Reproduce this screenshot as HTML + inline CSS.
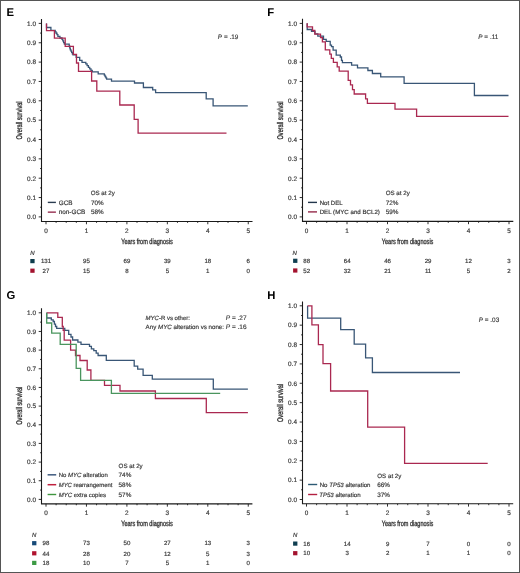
<!DOCTYPE html>
<html><head><meta charset="utf-8"><style>
html,body{margin:0;padding:0;background:#fff;}
body{width:520px;height:573px;overflow:hidden;font-family:"Liberation Sans", sans-serif;}
svg{display:block;will-change:transform;}
</style></head><body>
<svg width="520" height="573" viewBox="0 0 520 573" text-rendering="geometricPrecision" font-family='"Liberation Sans", sans-serif'>
<rect x="0" y="0" width="520" height="573" fill="#fff"/>
<path d="M41.5 19 V221.45 H252.5" fill="none" stroke="#1a1a1a" stroke-width="1.1"/>
<path d="M38.7 216.9 H41.5 M40.1 207.22 H41.5 M38.7 197.55 H41.5 M40.1 187.88 H41.5 M38.7 178.2 H41.5 M40.1 168.53 H41.5 M38.7 158.85 H41.5 M40.1 149.18 H41.5 M38.7 139.5 H41.5 M40.1 129.82 H41.5 M38.7 120.15 H41.5 M40.1 110.48 H41.5 M38.7 100.8 H41.5 M40.1 91.12 H41.5 M38.7 81.45 H41.5 M40.1 71.78 H41.5 M38.7 62.1 H41.5 M40.1 52.43 H41.5 M38.7 42.75 H41.5 M40.1 33.08 H41.5 M38.7 23.4 H41.5 M46 221.45 V224.25 M56.11 221.45 V222.85 M66.22 221.45 V222.85 M76.34 221.45 V222.85 M86.45 221.45 V224.25 M96.56 221.45 V222.85 M106.68 221.45 V222.85 M116.79 221.45 V222.85 M126.9 221.45 V224.25 M137.01 221.45 V222.85 M147.12 221.45 V222.85 M157.24 221.45 V222.85 M167.35 221.45 V224.25 M177.46 221.45 V222.85 M187.58 221.45 V222.85 M197.69 221.45 V222.85 M207.8 221.45 V224.25 M217.91 221.45 V222.85 M228.03 221.45 V222.85 M238.14 221.45 V222.85 M248.25 221.45 V224.25" stroke="#1a1a1a" stroke-width="0.9"/>
<text x="36" y="219.2" font-size="6.4" text-anchor="end" fill="#3a3a3a" font-weight="normal" stroke="#3a3a3a" stroke-width="0.18" >0.0</text>
<text x="36" y="199.85" font-size="6.4" text-anchor="end" fill="#3a3a3a" font-weight="normal" stroke="#3a3a3a" stroke-width="0.18" >0.1</text>
<text x="36" y="180.5" font-size="6.4" text-anchor="end" fill="#3a3a3a" font-weight="normal" stroke="#3a3a3a" stroke-width="0.18" >0.2</text>
<text x="36" y="161.15" font-size="6.4" text-anchor="end" fill="#3a3a3a" font-weight="normal" stroke="#3a3a3a" stroke-width="0.18" >0.3</text>
<text x="36" y="141.8" font-size="6.4" text-anchor="end" fill="#3a3a3a" font-weight="normal" stroke="#3a3a3a" stroke-width="0.18" >0.4</text>
<text x="36" y="122.45" font-size="6.4" text-anchor="end" fill="#3a3a3a" font-weight="normal" stroke="#3a3a3a" stroke-width="0.18" >0.5</text>
<text x="36" y="103.1" font-size="6.4" text-anchor="end" fill="#3a3a3a" font-weight="normal" stroke="#3a3a3a" stroke-width="0.18" >0.6</text>
<text x="36" y="83.75" font-size="6.4" text-anchor="end" fill="#3a3a3a" font-weight="normal" stroke="#3a3a3a" stroke-width="0.18" >0.7</text>
<text x="36" y="64.4" font-size="6.4" text-anchor="end" fill="#3a3a3a" font-weight="normal" stroke="#3a3a3a" stroke-width="0.18" >0.8</text>
<text x="36" y="45.05" font-size="6.4" text-anchor="end" fill="#3a3a3a" font-weight="normal" stroke="#3a3a3a" stroke-width="0.18" >0.9</text>
<text x="36" y="25.7" font-size="6.4" text-anchor="end" fill="#3a3a3a" font-weight="normal" stroke="#3a3a3a" stroke-width="0.18" >1.0</text>
<text x="46" y="232.75" font-size="6.4" text-anchor="middle" fill="#3a3a3a" font-weight="normal" stroke="#3a3a3a" stroke-width="0.18" >0</text>
<text x="86.45" y="232.75" font-size="6.4" text-anchor="middle" fill="#3a3a3a" font-weight="normal" stroke="#3a3a3a" stroke-width="0.18" >1</text>
<text x="126.9" y="232.75" font-size="6.4" text-anchor="middle" fill="#3a3a3a" font-weight="normal" stroke="#3a3a3a" stroke-width="0.18" >2</text>
<text x="167.35" y="232.75" font-size="6.4" text-anchor="middle" fill="#3a3a3a" font-weight="normal" stroke="#3a3a3a" stroke-width="0.18" >3</text>
<text x="207.8" y="232.75" font-size="6.4" text-anchor="middle" fill="#3a3a3a" font-weight="normal" stroke="#3a3a3a" stroke-width="0.18" >4</text>
<text x="248.25" y="232.75" font-size="6.4" text-anchor="middle" fill="#3a3a3a" font-weight="normal" stroke="#3a3a3a" stroke-width="0.18" >5</text>
<text x="0" y="0" font-size="7.6" fill="#333" stroke="#333" stroke-width="0.33" text-anchor="middle" transform="translate(146.97 243.75) scale(0.73 1)">Years from diagnosis</text>
<text x="0" y="0" font-size="8.3" fill="#333" stroke="#333" stroke-width="0.33" text-anchor="middle" transform="translate(22.3 120.45) rotate(-90) scale(0.67 1)">Overall survival</text>
<text x="6.4" y="16.2" font-size="11.3" text-anchor="start" fill="#000" font-weight="bold" >E</text>
<path d="M302.5 18.8 V221.4 H513.3" fill="none" stroke="#1a1a1a" stroke-width="1.1"/>
<path d="M299.7 216.9 H302.5 M301.1 207.22 H302.5 M299.7 197.55 H302.5 M301.1 187.88 H302.5 M299.7 178.2 H302.5 M301.1 168.53 H302.5 M299.7 158.85 H302.5 M301.1 149.18 H302.5 M299.7 139.5 H302.5 M301.1 129.82 H302.5 M299.7 120.15 H302.5 M301.1 110.48 H302.5 M299.7 100.8 H302.5 M301.1 91.12 H302.5 M299.7 81.45 H302.5 M301.1 71.78 H302.5 M299.7 62.1 H302.5 M301.1 52.43 H302.5 M299.7 42.75 H302.5 M301.1 33.08 H302.5 M299.7 23.4 H302.5 M306.5 221.4 V224.2 M316.62 221.4 V222.8 M326.75 221.4 V222.8 M336.88 221.4 V222.8 M347 221.4 V224.2 M357.12 221.4 V222.8 M367.25 221.4 V222.8 M377.38 221.4 V222.8 M387.5 221.4 V224.2 M397.62 221.4 V222.8 M407.75 221.4 V222.8 M417.88 221.4 V222.8 M428 221.4 V224.2 M438.12 221.4 V222.8 M448.25 221.4 V222.8 M458.38 221.4 V222.8 M468.5 221.4 V224.2 M478.62 221.4 V222.8 M488.75 221.4 V222.8 M498.88 221.4 V222.8 M509 221.4 V224.2" stroke="#1a1a1a" stroke-width="0.9"/>
<text x="297" y="219.2" font-size="6.4" text-anchor="end" fill="#3a3a3a" font-weight="normal" stroke="#3a3a3a" stroke-width="0.18" >0.0</text>
<text x="297" y="199.85" font-size="6.4" text-anchor="end" fill="#3a3a3a" font-weight="normal" stroke="#3a3a3a" stroke-width="0.18" >0.1</text>
<text x="297" y="180.5" font-size="6.4" text-anchor="end" fill="#3a3a3a" font-weight="normal" stroke="#3a3a3a" stroke-width="0.18" >0.2</text>
<text x="297" y="161.15" font-size="6.4" text-anchor="end" fill="#3a3a3a" font-weight="normal" stroke="#3a3a3a" stroke-width="0.18" >0.3</text>
<text x="297" y="141.8" font-size="6.4" text-anchor="end" fill="#3a3a3a" font-weight="normal" stroke="#3a3a3a" stroke-width="0.18" >0.4</text>
<text x="297" y="122.45" font-size="6.4" text-anchor="end" fill="#3a3a3a" font-weight="normal" stroke="#3a3a3a" stroke-width="0.18" >0.5</text>
<text x="297" y="103.1" font-size="6.4" text-anchor="end" fill="#3a3a3a" font-weight="normal" stroke="#3a3a3a" stroke-width="0.18" >0.6</text>
<text x="297" y="83.75" font-size="6.4" text-anchor="end" fill="#3a3a3a" font-weight="normal" stroke="#3a3a3a" stroke-width="0.18" >0.7</text>
<text x="297" y="64.4" font-size="6.4" text-anchor="end" fill="#3a3a3a" font-weight="normal" stroke="#3a3a3a" stroke-width="0.18" >0.8</text>
<text x="297" y="45.05" font-size="6.4" text-anchor="end" fill="#3a3a3a" font-weight="normal" stroke="#3a3a3a" stroke-width="0.18" >0.9</text>
<text x="297" y="25.7" font-size="6.4" text-anchor="end" fill="#3a3a3a" font-weight="normal" stroke="#3a3a3a" stroke-width="0.18" >1.0</text>
<text x="306.5" y="232.7" font-size="6.4" text-anchor="middle" fill="#3a3a3a" font-weight="normal" stroke="#3a3a3a" stroke-width="0.18" >0</text>
<text x="347" y="232.7" font-size="6.4" text-anchor="middle" fill="#3a3a3a" font-weight="normal" stroke="#3a3a3a" stroke-width="0.18" >1</text>
<text x="387.5" y="232.7" font-size="6.4" text-anchor="middle" fill="#3a3a3a" font-weight="normal" stroke="#3a3a3a" stroke-width="0.18" >2</text>
<text x="428" y="232.7" font-size="6.4" text-anchor="middle" fill="#3a3a3a" font-weight="normal" stroke="#3a3a3a" stroke-width="0.18" >3</text>
<text x="468.5" y="232.7" font-size="6.4" text-anchor="middle" fill="#3a3a3a" font-weight="normal" stroke="#3a3a3a" stroke-width="0.18" >4</text>
<text x="509" y="232.7" font-size="6.4" text-anchor="middle" fill="#3a3a3a" font-weight="normal" stroke="#3a3a3a" stroke-width="0.18" >5</text>
<text x="0" y="0" font-size="7.6" fill="#333" stroke="#333" stroke-width="0.33" text-anchor="middle" transform="translate(407.6 243.7) scale(0.73 1)">Years from diagnosis</text>
<text x="0" y="0" font-size="8.3" fill="#333" stroke="#333" stroke-width="0.33" text-anchor="middle" transform="translate(283.3 120.45) rotate(-90) scale(0.67 1)">Overall survival</text>
<text x="267.2" y="16" font-size="11.3" text-anchor="start" fill="#000" font-weight="bold" >F</text>
<path d="M41.5 308.3 V503.85 H252.4" fill="none" stroke="#1a1a1a" stroke-width="1.1"/>
<path d="M38.7 499.4 H41.5 M40.1 490.07 H41.5 M38.7 480.74 H41.5 M40.1 471.41 H41.5 M38.7 462.08 H41.5 M40.1 452.75 H41.5 M38.7 443.42 H41.5 M40.1 434.09 H41.5 M38.7 424.76 H41.5 M40.1 415.43 H41.5 M38.7 406.1 H41.5 M40.1 396.77 H41.5 M38.7 387.44 H41.5 M40.1 378.11 H41.5 M38.7 368.78 H41.5 M40.1 359.45 H41.5 M38.7 350.12 H41.5 M40.1 340.79 H41.5 M38.7 331.46 H41.5 M40.1 322.13 H41.5 M38.7 312.8 H41.5 M46 503.85 V506.65 M56.11 503.85 V505.25 M66.22 503.85 V505.25 M76.34 503.85 V505.25 M86.45 503.85 V506.65 M96.56 503.85 V505.25 M106.68 503.85 V505.25 M116.79 503.85 V505.25 M126.9 503.85 V506.65 M137.01 503.85 V505.25 M147.12 503.85 V505.25 M157.24 503.85 V505.25 M167.35 503.85 V506.65 M177.46 503.85 V505.25 M187.58 503.85 V505.25 M197.69 503.85 V505.25 M207.8 503.85 V506.65 M217.91 503.85 V505.25 M228.03 503.85 V505.25 M238.14 503.85 V505.25 M248.25 503.85 V506.65" stroke="#1a1a1a" stroke-width="0.9"/>
<text x="36" y="501.7" font-size="6.4" text-anchor="end" fill="#3a3a3a" font-weight="normal" stroke="#3a3a3a" stroke-width="0.18" >0.0</text>
<text x="36" y="483.04" font-size="6.4" text-anchor="end" fill="#3a3a3a" font-weight="normal" stroke="#3a3a3a" stroke-width="0.18" >0.1</text>
<text x="36" y="464.38" font-size="6.4" text-anchor="end" fill="#3a3a3a" font-weight="normal" stroke="#3a3a3a" stroke-width="0.18" >0.2</text>
<text x="36" y="445.72" font-size="6.4" text-anchor="end" fill="#3a3a3a" font-weight="normal" stroke="#3a3a3a" stroke-width="0.18" >0.3</text>
<text x="36" y="427.06" font-size="6.4" text-anchor="end" fill="#3a3a3a" font-weight="normal" stroke="#3a3a3a" stroke-width="0.18" >0.4</text>
<text x="36" y="408.4" font-size="6.4" text-anchor="end" fill="#3a3a3a" font-weight="normal" stroke="#3a3a3a" stroke-width="0.18" >0.5</text>
<text x="36" y="389.74" font-size="6.4" text-anchor="end" fill="#3a3a3a" font-weight="normal" stroke="#3a3a3a" stroke-width="0.18" >0.6</text>
<text x="36" y="371.08" font-size="6.4" text-anchor="end" fill="#3a3a3a" font-weight="normal" stroke="#3a3a3a" stroke-width="0.18" >0.7</text>
<text x="36" y="352.42" font-size="6.4" text-anchor="end" fill="#3a3a3a" font-weight="normal" stroke="#3a3a3a" stroke-width="0.18" >0.8</text>
<text x="36" y="333.76" font-size="6.4" text-anchor="end" fill="#3a3a3a" font-weight="normal" stroke="#3a3a3a" stroke-width="0.18" >0.9</text>
<text x="36" y="315.1" font-size="6.4" text-anchor="end" fill="#3a3a3a" font-weight="normal" stroke="#3a3a3a" stroke-width="0.18" >1.0</text>
<text x="46" y="515.15" font-size="6.4" text-anchor="middle" fill="#3a3a3a" font-weight="normal" stroke="#3a3a3a" stroke-width="0.18" >0</text>
<text x="86.45" y="515.15" font-size="6.4" text-anchor="middle" fill="#3a3a3a" font-weight="normal" stroke="#3a3a3a" stroke-width="0.18" >1</text>
<text x="126.9" y="515.15" font-size="6.4" text-anchor="middle" fill="#3a3a3a" font-weight="normal" stroke="#3a3a3a" stroke-width="0.18" >2</text>
<text x="167.35" y="515.15" font-size="6.4" text-anchor="middle" fill="#3a3a3a" font-weight="normal" stroke="#3a3a3a" stroke-width="0.18" >3</text>
<text x="207.8" y="515.15" font-size="6.4" text-anchor="middle" fill="#3a3a3a" font-weight="normal" stroke="#3a3a3a" stroke-width="0.18" >4</text>
<text x="248.25" y="515.15" font-size="6.4" text-anchor="middle" fill="#3a3a3a" font-weight="normal" stroke="#3a3a3a" stroke-width="0.18" >5</text>
<text x="0" y="0" font-size="7.6" fill="#333" stroke="#333" stroke-width="0.33" text-anchor="middle" transform="translate(146.97 526.15) scale(0.73 1)">Years from diagnosis</text>
<text x="0" y="0" font-size="8.3" fill="#333" stroke="#333" stroke-width="0.33" text-anchor="middle" transform="translate(22.3 405.7) rotate(-90) scale(0.67 1)">Overall survival</text>
<text x="6.4" y="298.8" font-size="11.3" text-anchor="start" fill="#000" font-weight="bold" >G</text>
<path d="M302.5 301.5 V503.8 H513.2" fill="none" stroke="#1a1a1a" stroke-width="1.1"/>
<path d="M299.7 499.5 H302.5 M301.1 489.81 H302.5 M299.7 480.13 H302.5 M301.1 470.44 H302.5 M299.7 460.76 H302.5 M301.1 451.07 H302.5 M299.7 441.39 H302.5 M301.1 431.71 H302.5 M299.7 422.02 H302.5 M301.1 412.34 H302.5 M299.7 402.65 H302.5 M301.1 392.97 H302.5 M299.7 383.28 H302.5 M301.1 373.6 H302.5 M299.7 363.91 H302.5 M301.1 354.23 H302.5 M299.7 344.54 H302.5 M301.1 334.86 H302.5 M299.7 325.17 H302.5 M301.1 315.49 H302.5 M299.7 305.8 H302.5 M306.5 503.8 V506.6 M316.62 503.8 V505.2 M326.75 503.8 V505.2 M336.88 503.8 V505.2 M347 503.8 V506.6 M357.12 503.8 V505.2 M367.25 503.8 V505.2 M377.38 503.8 V505.2 M387.5 503.8 V506.6 M397.62 503.8 V505.2 M407.75 503.8 V505.2 M417.88 503.8 V505.2 M428 503.8 V506.6 M438.12 503.8 V505.2 M448.25 503.8 V505.2 M458.38 503.8 V505.2 M468.5 503.8 V506.6 M478.62 503.8 V505.2 M488.75 503.8 V505.2 M498.88 503.8 V505.2 M509 503.8 V506.6" stroke="#1a1a1a" stroke-width="0.9"/>
<text x="297" y="501.8" font-size="6.4" text-anchor="end" fill="#3a3a3a" font-weight="normal" stroke="#3a3a3a" stroke-width="0.18" >0.0</text>
<text x="297" y="482.43" font-size="6.4" text-anchor="end" fill="#3a3a3a" font-weight="normal" stroke="#3a3a3a" stroke-width="0.18" >0.1</text>
<text x="297" y="463.06" font-size="6.4" text-anchor="end" fill="#3a3a3a" font-weight="normal" stroke="#3a3a3a" stroke-width="0.18" >0.2</text>
<text x="297" y="443.69" font-size="6.4" text-anchor="end" fill="#3a3a3a" font-weight="normal" stroke="#3a3a3a" stroke-width="0.18" >0.3</text>
<text x="297" y="424.32" font-size="6.4" text-anchor="end" fill="#3a3a3a" font-weight="normal" stroke="#3a3a3a" stroke-width="0.18" >0.4</text>
<text x="297" y="404.95" font-size="6.4" text-anchor="end" fill="#3a3a3a" font-weight="normal" stroke="#3a3a3a" stroke-width="0.18" >0.5</text>
<text x="297" y="385.58" font-size="6.4" text-anchor="end" fill="#3a3a3a" font-weight="normal" stroke="#3a3a3a" stroke-width="0.18" >0.6</text>
<text x="297" y="366.21" font-size="6.4" text-anchor="end" fill="#3a3a3a" font-weight="normal" stroke="#3a3a3a" stroke-width="0.18" >0.7</text>
<text x="297" y="346.84" font-size="6.4" text-anchor="end" fill="#3a3a3a" font-weight="normal" stroke="#3a3a3a" stroke-width="0.18" >0.8</text>
<text x="297" y="327.47" font-size="6.4" text-anchor="end" fill="#3a3a3a" font-weight="normal" stroke="#3a3a3a" stroke-width="0.18" >0.9</text>
<text x="297" y="308.1" font-size="6.4" text-anchor="end" fill="#3a3a3a" font-weight="normal" stroke="#3a3a3a" stroke-width="0.18" >1.0</text>
<text x="306.5" y="515.1" font-size="6.4" text-anchor="middle" fill="#3a3a3a" font-weight="normal" stroke="#3a3a3a" stroke-width="0.18" >0</text>
<text x="347" y="515.1" font-size="6.4" text-anchor="middle" fill="#3a3a3a" font-weight="normal" stroke="#3a3a3a" stroke-width="0.18" >1</text>
<text x="387.5" y="515.1" font-size="6.4" text-anchor="middle" fill="#3a3a3a" font-weight="normal" stroke="#3a3a3a" stroke-width="0.18" >2</text>
<text x="428" y="515.1" font-size="6.4" text-anchor="middle" fill="#3a3a3a" font-weight="normal" stroke="#3a3a3a" stroke-width="0.18" >3</text>
<text x="468.5" y="515.1" font-size="6.4" text-anchor="middle" fill="#3a3a3a" font-weight="normal" stroke="#3a3a3a" stroke-width="0.18" >4</text>
<text x="509" y="515.1" font-size="6.4" text-anchor="middle" fill="#3a3a3a" font-weight="normal" stroke="#3a3a3a" stroke-width="0.18" >5</text>
<text x="0" y="0" font-size="7.6" fill="#333" stroke="#333" stroke-width="0.33" text-anchor="middle" transform="translate(407.6 526.1) scale(0.73 1)">Years from diagnosis</text>
<text x="0" y="0" font-size="8.3" fill="#333" stroke="#333" stroke-width="0.33" text-anchor="middle" transform="translate(283.3 402.95) rotate(-90) scale(0.67 1)">Overall survival</text>
<text x="267.2" y="298.8" font-size="11.3" text-anchor="start" fill="#000" font-weight="bold" >H</text>
<path d="M46.5 23.5 V27.5 H50.9 V30.4 H55.2 V31.83 H56.1 V33.27 H57 V34.7 H57.9 V36.35 H59.95 V38 H62 V39.45 H62.8 V40.9 H63.6 V42.55 H64.4 V44.2 H65.2 H69.2 V45.63 H69.57 V47.07 H69.93 V48.5 H70.3 V49.83 H70.97 V51.15 H71.65 V52.47 H72.33 V53.8 H73 V54.9 H76.2 V57.3 H79.7 V60.4 H82 V62.3 H85.8 V63.97 H87.1 V65.63 H88.4 V67.3 H89.7 V68.83 H90.97 V70.37 H92.23 V71.9 H93.5 H98.2 V73.8 H104.3 V75.15 H105.08 V76.5 H105.85 V77.85 H106.62 V79.2 H107.4 H111.5 V81.2 H134.5 V83 H143.4 V87.5 H152.7 V89.8 H155.6 V92.6 H206.2 V98.9 H213.1 V105.8 H247.8" fill="none" stroke="#395676" stroke-width="1.3" stroke-linejoin="miter"/>
<path d="M46.5 23.5 V30.6 H54.4 V38.2 H65.2 V46.3 H73.4 V54.4 H76.5 V63 H78.5 V71.4 H91.6 V81 H96.8 V91.1 H119.8 V105 H134.2 V119.3 H138.1 V133.2 H226.5" fill="none" stroke="#aa2850" stroke-width="1.3" stroke-linejoin="miter"/>
<path d="M307.2 23.2 V29.5 H311.5 V31.4 H315 V33.9 H317.8 V36.2 H323.5 V39.4 H326.2 V41.3 H330.2 V45.1 H331.5 V46.6 H333.1 V50.1 H336.2 V55.1 H340.3 V57 H341.5 V60.4 H342.4 V62.7 H351.6 V65.2 H357.5 V67.9 H367.9 V70.5 H372.4 V73.5 H380.7 V76.9 H404.1 V83.45 H474.4 V95.5 H508.5" fill="none" stroke="#395676" stroke-width="1.3" stroke-linejoin="miter"/>
<path d="M307.2 23.2 V26.8 H312.5 V30.5 H314.8 V34.2 H320.5 V37.6 H322.4 V41.9 H325.3 V49.9 H329.8 V54.1 H331.3 V58.4 H333.4 V62.4 H337.2 V66.8 H339.2 V71.1 H348.2 V80.4 H350.5 V84.9 H352.5 V89.6 H354.2 V94 H365.6 V98.8 H367.4 V103.4 H395 V109.1 H416.6 V116.4 H508.5" fill="none" stroke="#aa2850" stroke-width="1.3" stroke-linejoin="miter"/>
<path d="M46.7 312.8 V318 H51.3 V319.9 H53.2 V321.5 H54.4 V324.2 H55.5 V326.5 H56.7 V328.4 H64.8 V330.3 H68.7 V334.3 H71 V337 H72.6 V340 H77.9 V342.1 H81 V344.3 H89.5 V346.3 H91.4 V348.8 H93.8 V350.7 H96.2 V353.1 H98.1 V355.5 H106.3 V360.4 H134.2 V366.2 H137.7 V369.2 H143.1 V375.4 H152.3 V379.1 H213.3 V389.1 H247.9" fill="none" stroke="#395676" stroke-width="1.3" stroke-linejoin="miter"/>
<path d="M46.7 312.8 H57.8 V317.4 H62.3 V326.5 H63.2 V330.3 H64.2 V340.1 H70.6 V350.2 H75.5 V355.5 H80 V360.5 H87.2 V370 H90.9 V380.3 H104.5 V385.4 H120 V391 H155.4 V398.5 H206.3 V412.6 H247.9" fill="none" stroke="#aa2850" stroke-width="1.3" stroke-linejoin="miter"/>
<path d="M46.7 312.8 V323 H51.7 V333.2 H60.2 V344.3 H76.2 V368.3 H80.6 V380.3 H111.4 V393.3 H220.2" fill="none" stroke="#4a955e" stroke-width="1.3" stroke-linejoin="miter"/>
<path d="M307.6 305.8 V318.2 H340.7 V329.7 H354.2 V344.2 H365.6 V357.9 H372.4 V372.5 H460" fill="none" stroke="#395676" stroke-width="1.3" stroke-linejoin="miter"/>
<path d="M307.6 305.8 H311.9 V324.9 H318.4 V344.6 H323 V363.7 H330.6 V391 H367.7 V427.1 H404.6 V463.3 H487.7" fill="none" stroke="#aa2850" stroke-width="1.3" stroke-linejoin="miter"/>
<text x="238.3" y="39.4" font-size="6.4" fill="#3a3a3a" stroke="#3a3a3a" stroke-width="0.15" text-anchor="end"><tspan font-style="italic">P</tspan> = .19</text>
<text x="498.3" y="39.3" font-size="6.4" fill="#3a3a3a" stroke="#3a3a3a" stroke-width="0.15" text-anchor="end"><tspan font-style="italic">P</tspan> = .11</text>
<text x="499.2" y="321.9" font-size="6.4" fill="#3a3a3a" stroke="#3a3a3a" stroke-width="0.15" text-anchor="end"><tspan font-style="italic">P</tspan> = .03</text>
<text x="246.6" y="319.6" font-size="6.5" fill="#3a3a3a" stroke="#3a3a3a" stroke-width="0.15" text-anchor="end"><tspan font-style="italic">P</tspan> = .27</text>
<text x="246.6" y="329.3" font-size="6.5" fill="#3a3a3a" stroke="#3a3a3a" stroke-width="0.15" text-anchor="end"><tspan font-style="italic">P</tspan> = .16</text>
<text x="145.6" y="319.6" font-size="6.0" text-anchor="start" fill="#3a3a3a" font-weight="normal" stroke="#3a3a3a" stroke-width="0.18" ><tspan font-style="italic">MYC</tspan>-R vs other:</text>
<text x="145.6" y="329.3" font-size="6.2" text-anchor="start" fill="#3a3a3a" font-weight="normal" stroke="#3a3a3a" stroke-width="0.18" >Any <tspan font-style="italic">MYC</tspan> alteration vs none:</text>
<text x="90.7" y="195.2" font-size="6.2" text-anchor="start" fill="#3a3a3a" font-weight="normal" stroke="#3a3a3a" stroke-width="0.18" >OS at 2y</text>
<path d="M47.8 202.4 H55.9" stroke="#2a3c50" stroke-width="1.4"/>
<text x="58.7" y="204.5" font-size="6.4" text-anchor="start" fill="#3a3a3a" font-weight="normal" stroke="#3a3a3a" stroke-width="0.18" >GCB</text>
<text x="90.9" y="204.5" font-size="6.35" text-anchor="start" fill="#3a3a3a" font-weight="normal" stroke="#3a3a3a" stroke-width="0.18" >70%</text>
<path d="M47.8 212.15 H55.9" stroke="#952f50" stroke-width="1.4"/>
<text x="58.7" y="214.1" font-size="6.4" text-anchor="start" fill="#3a3a3a" font-weight="normal" stroke="#3a3a3a" stroke-width="0.18" >non-GCB</text>
<text x="90.9" y="214.1" font-size="6.35" text-anchor="start" fill="#3a3a3a" font-weight="normal" stroke="#3a3a3a" stroke-width="0.18" >58%</text>
<text x="385.7" y="195.3" font-size="6.2" text-anchor="start" fill="#3a3a3a" font-weight="normal" stroke="#3a3a3a" stroke-width="0.18" >OS at 2y</text>
<path d="M308 202.4 H317" stroke="#23364c" stroke-width="1.4"/>
<text x="319.7" y="204.5" font-size="6.05" text-anchor="start" fill="#3a3a3a" font-weight="normal" stroke="#3a3a3a" stroke-width="0.18" >Not DEL</text>
<text x="385.7" y="204.5" font-size="6.35" text-anchor="start" fill="#3a3a3a" font-weight="normal" stroke="#3a3a3a" stroke-width="0.18" >72%</text>
<path d="M308 211.9 H317" stroke="#952a4a" stroke-width="1.4"/>
<text x="319.7" y="214.1" font-size="6.15" text-anchor="start" fill="#3a3a3a" font-weight="normal" stroke="#3a3a3a" stroke-width="0.18" >DEL (MYC and BCL2)</text>
<text x="385.7" y="214.1" font-size="6.35" text-anchor="start" fill="#3a3a3a" font-weight="normal" stroke="#3a3a3a" stroke-width="0.18" >59%</text>
<text x="118.6" y="467.5" font-size="6.2" text-anchor="start" fill="#3a3a3a" font-weight="normal" stroke="#3a3a3a" stroke-width="0.18" >OS at 2y</text>
<path d="M47.6 474.8 H56.2" stroke="#4a6486" stroke-width="1.6"/>
<text x="58.7" y="477.1" font-size="6.0" text-anchor="start" fill="#3a3a3a" font-weight="normal" stroke="#3a3a3a" stroke-width="0.18" >No <tspan font-style="italic">MYC</tspan> alteration</text>
<text x="118.6" y="477.1" font-size="6.35" text-anchor="start" fill="#3a3a3a" font-weight="normal" stroke="#3a3a3a" stroke-width="0.18" >74%</text>
<path d="M47.6 484.7 H56.2" stroke="#c0203e" stroke-width="1.5"/>
<text x="58.7" y="486.8" font-size="5.95" text-anchor="start" fill="#3a3a3a" font-weight="normal" stroke="#3a3a3a" stroke-width="0.18" ><tspan font-style="italic">MYC</tspan> rearrangement</text>
<text x="118.6" y="486.8" font-size="6.35" text-anchor="start" fill="#3a3a3a" font-weight="normal" stroke="#3a3a3a" stroke-width="0.18" >58%</text>
<path d="M47.6 494.5 H56.2" stroke="#3f963f" stroke-width="1.4"/>
<text x="58.7" y="496.7" font-size="6.0" text-anchor="start" fill="#3a3a3a" font-weight="normal" stroke="#3a3a3a" stroke-width="0.18" ><tspan font-style="italic">MYC</tspan> extra copies</text>
<text x="118.6" y="496.7" font-size="6.35" text-anchor="start" fill="#3a3a3a" font-weight="normal" stroke="#3a3a3a" stroke-width="0.18" >57%</text>
<text x="377.3" y="477.5" font-size="6.2" text-anchor="start" fill="#3a3a3a" font-weight="normal" stroke="#3a3a3a" stroke-width="0.18" >OS at 2y</text>
<path d="M308.1 484.5 H317.2" stroke="#2d5a74" stroke-width="1.4"/>
<text x="319.7" y="487.1" font-size="6.1" text-anchor="start" fill="#3a3a3a" font-weight="normal" stroke="#3a3a3a" stroke-width="0.18" >No <tspan font-style="italic">TP53</tspan> alteration</text>
<text x="377.3" y="487.1" font-size="6.35" text-anchor="start" fill="#3a3a3a" font-weight="normal" stroke="#3a3a3a" stroke-width="0.18" >66%</text>
<path d="M308.1 494.5 H317.2" stroke="#b31f40" stroke-width="1.4"/>
<text x="319.2" y="496.8" font-size="6.1" text-anchor="start" fill="#3a3a3a" font-weight="normal" stroke="#3a3a3a" stroke-width="0.18" ><tspan font-style="italic">TP53</tspan> alteration</text>
<text x="377.3" y="496.8" font-size="6.35" text-anchor="start" fill="#3a3a3a" font-weight="normal" stroke="#3a3a3a" stroke-width="0.18" >37%</text>
<text x="30.2" y="254.6" font-size="6.0" text-anchor="start" fill="#3a3a3a" font-weight="normal" stroke="#3a3a3a" stroke-width="0.18" font-style="italic">N</text>
<rect x="30.3" y="259" width="4.3" height="4.2" fill="#0e3c4c"/>
<text x="46" y="263.3" font-size="6.1" text-anchor="middle" fill="#3a3a3a" font-weight="normal" stroke="#3a3a3a" stroke-width="0.18" >131</text>
<text x="86.45" y="263.3" font-size="6.1" text-anchor="middle" fill="#3a3a3a" font-weight="normal" stroke="#3a3a3a" stroke-width="0.18" >95</text>
<text x="126.9" y="263.3" font-size="6.1" text-anchor="middle" fill="#3a3a3a" font-weight="normal" stroke="#3a3a3a" stroke-width="0.18" >69</text>
<text x="167.35" y="263.3" font-size="6.1" text-anchor="middle" fill="#3a3a3a" font-weight="normal" stroke="#3a3a3a" stroke-width="0.18" >39</text>
<text x="207.8" y="263.3" font-size="6.1" text-anchor="middle" fill="#3a3a3a" font-weight="normal" stroke="#3a3a3a" stroke-width="0.18" >18</text>
<text x="248.25" y="263.3" font-size="6.1" text-anchor="middle" fill="#3a3a3a" font-weight="normal" stroke="#3a3a3a" stroke-width="0.18" >6</text>
<rect x="30.3" y="268.6" width="4.3" height="4.2" fill="#a3122e"/>
<text x="46" y="272.9" font-size="6.1" text-anchor="middle" fill="#3a3a3a" font-weight="normal" stroke="#3a3a3a" stroke-width="0.18" >27</text>
<text x="86.45" y="272.9" font-size="6.1" text-anchor="middle" fill="#3a3a3a" font-weight="normal" stroke="#3a3a3a" stroke-width="0.18" >15</text>
<text x="126.9" y="272.9" font-size="6.1" text-anchor="middle" fill="#3a3a3a" font-weight="normal" stroke="#3a3a3a" stroke-width="0.18" >8</text>
<text x="167.35" y="272.9" font-size="6.1" text-anchor="middle" fill="#3a3a3a" font-weight="normal" stroke="#3a3a3a" stroke-width="0.18" >5</text>
<text x="207.8" y="272.9" font-size="6.1" text-anchor="middle" fill="#3a3a3a" font-weight="normal" stroke="#3a3a3a" stroke-width="0.18" >1</text>
<text x="248.25" y="272.9" font-size="6.1" text-anchor="middle" fill="#3a3a3a" font-weight="normal" stroke="#3a3a3a" stroke-width="0.18" >0</text>
<text x="292.6" y="254.6" font-size="6.0" text-anchor="start" fill="#3a3a3a" font-weight="normal" stroke="#3a3a3a" stroke-width="0.18" font-style="italic">N</text>
<rect x="293.1" y="258.7" width="4.3" height="4.2" fill="#0f3e50"/>
<text x="306.7" y="263" font-size="6.1" text-anchor="middle" fill="#3a3a3a" font-weight="normal" stroke="#3a3a3a" stroke-width="0.18" >88</text>
<text x="347.15" y="263" font-size="6.1" text-anchor="middle" fill="#3a3a3a" font-weight="normal" stroke="#3a3a3a" stroke-width="0.18" >64</text>
<text x="387.6" y="263" font-size="6.1" text-anchor="middle" fill="#3a3a3a" font-weight="normal" stroke="#3a3a3a" stroke-width="0.18" >46</text>
<text x="428.05" y="263" font-size="6.1" text-anchor="middle" fill="#3a3a3a" font-weight="normal" stroke="#3a3a3a" stroke-width="0.18" >29</text>
<text x="468.5" y="263" font-size="6.1" text-anchor="middle" fill="#3a3a3a" font-weight="normal" stroke="#3a3a3a" stroke-width="0.18" >12</text>
<text x="508.95" y="263" font-size="6.1" text-anchor="middle" fill="#3a3a3a" font-weight="normal" stroke="#3a3a3a" stroke-width="0.18" >3</text>
<rect x="293.1" y="268.4" width="4.3" height="4.2" fill="#a3122e"/>
<text x="306.7" y="272.7" font-size="6.1" text-anchor="middle" fill="#3a3a3a" font-weight="normal" stroke="#3a3a3a" stroke-width="0.18" >52</text>
<text x="347.15" y="272.7" font-size="6.1" text-anchor="middle" fill="#3a3a3a" font-weight="normal" stroke="#3a3a3a" stroke-width="0.18" >32</text>
<text x="387.6" y="272.7" font-size="6.1" text-anchor="middle" fill="#3a3a3a" font-weight="normal" stroke="#3a3a3a" stroke-width="0.18" >21</text>
<text x="428.05" y="272.7" font-size="6.1" text-anchor="middle" fill="#3a3a3a" font-weight="normal" stroke="#3a3a3a" stroke-width="0.18" >11</text>
<text x="468.5" y="272.7" font-size="6.1" text-anchor="middle" fill="#3a3a3a" font-weight="normal" stroke="#3a3a3a" stroke-width="0.18" >5</text>
<text x="508.95" y="272.7" font-size="6.1" text-anchor="middle" fill="#3a3a3a" font-weight="normal" stroke="#3a3a3a" stroke-width="0.18" >2</text>
<text x="32" y="536.7" font-size="6.0" text-anchor="start" fill="#3a3a3a" font-weight="normal" stroke="#3a3a3a" stroke-width="0.18" font-style="italic">N</text>
<rect x="32.1" y="541.1" width="4.3" height="4.2" fill="#164a78"/>
<text x="46" y="545.4" font-size="6.1" text-anchor="middle" fill="#3a3a3a" font-weight="normal" stroke="#3a3a3a" stroke-width="0.18" >98</text>
<text x="86.45" y="545.4" font-size="6.1" text-anchor="middle" fill="#3a3a3a" font-weight="normal" stroke="#3a3a3a" stroke-width="0.18" >73</text>
<text x="126.9" y="545.4" font-size="6.1" text-anchor="middle" fill="#3a3a3a" font-weight="normal" stroke="#3a3a3a" stroke-width="0.18" >50</text>
<text x="167.35" y="545.4" font-size="6.1" text-anchor="middle" fill="#3a3a3a" font-weight="normal" stroke="#3a3a3a" stroke-width="0.18" >27</text>
<text x="207.8" y="545.4" font-size="6.1" text-anchor="middle" fill="#3a3a3a" font-weight="normal" stroke="#3a3a3a" stroke-width="0.18" >13</text>
<text x="248.25" y="545.4" font-size="6.1" text-anchor="middle" fill="#3a3a3a" font-weight="normal" stroke="#3a3a3a" stroke-width="0.18" >3</text>
<rect x="32.1" y="551.2" width="4.3" height="4.2" fill="#b0122e"/>
<text x="46" y="555.5" font-size="6.1" text-anchor="middle" fill="#3a3a3a" font-weight="normal" stroke="#3a3a3a" stroke-width="0.18" >44</text>
<text x="86.45" y="555.5" font-size="6.1" text-anchor="middle" fill="#3a3a3a" font-weight="normal" stroke="#3a3a3a" stroke-width="0.18" >28</text>
<text x="126.9" y="555.5" font-size="6.1" text-anchor="middle" fill="#3a3a3a" font-weight="normal" stroke="#3a3a3a" stroke-width="0.18" >20</text>
<text x="167.35" y="555.5" font-size="6.1" text-anchor="middle" fill="#3a3a3a" font-weight="normal" stroke="#3a3a3a" stroke-width="0.18" >12</text>
<text x="207.8" y="555.5" font-size="6.1" text-anchor="middle" fill="#3a3a3a" font-weight="normal" stroke="#3a3a3a" stroke-width="0.18" >5</text>
<text x="248.25" y="555.5" font-size="6.1" text-anchor="middle" fill="#3a3a3a" font-weight="normal" stroke="#3a3a3a" stroke-width="0.18" >3</text>
<rect x="32.1" y="560.8" width="4.3" height="4.2" fill="#3c9a44"/>
<text x="46" y="565.1" font-size="6.1" text-anchor="middle" fill="#3a3a3a" font-weight="normal" stroke="#3a3a3a" stroke-width="0.18" >18</text>
<text x="86.45" y="565.1" font-size="6.1" text-anchor="middle" fill="#3a3a3a" font-weight="normal" stroke="#3a3a3a" stroke-width="0.18" >10</text>
<text x="126.9" y="565.1" font-size="6.1" text-anchor="middle" fill="#3a3a3a" font-weight="normal" stroke="#3a3a3a" stroke-width="0.18" >7</text>
<text x="167.35" y="565.1" font-size="6.1" text-anchor="middle" fill="#3a3a3a" font-weight="normal" stroke="#3a3a3a" stroke-width="0.18" >5</text>
<text x="207.8" y="565.1" font-size="6.1" text-anchor="middle" fill="#3a3a3a" font-weight="normal" stroke="#3a3a3a" stroke-width="0.18" >1</text>
<text x="248.25" y="565.1" font-size="6.1" text-anchor="middle" fill="#3a3a3a" font-weight="normal" stroke="#3a3a3a" stroke-width="0.18" >0</text>
<text x="293" y="536.8" font-size="6.0" text-anchor="start" fill="#3a3a3a" font-weight="normal" stroke="#3a3a3a" stroke-width="0.18" font-style="italic">N</text>
<rect x="293.1" y="541.5" width="4.3" height="4.2" fill="#0f3e50"/>
<text x="306.7" y="545.8" font-size="6.1" text-anchor="middle" fill="#3a3a3a" font-weight="normal" stroke="#3a3a3a" stroke-width="0.18" >16</text>
<text x="347.15" y="545.8" font-size="6.1" text-anchor="middle" fill="#3a3a3a" font-weight="normal" stroke="#3a3a3a" stroke-width="0.18" >14</text>
<text x="387.6" y="545.8" font-size="6.1" text-anchor="middle" fill="#3a3a3a" font-weight="normal" stroke="#3a3a3a" stroke-width="0.18" >9</text>
<text x="428.05" y="545.8" font-size="6.1" text-anchor="middle" fill="#3a3a3a" font-weight="normal" stroke="#3a3a3a" stroke-width="0.18" >7</text>
<text x="468.5" y="545.8" font-size="6.1" text-anchor="middle" fill="#3a3a3a" font-weight="normal" stroke="#3a3a3a" stroke-width="0.18" >0</text>
<text x="508.95" y="545.8" font-size="6.1" text-anchor="middle" fill="#3a3a3a" font-weight="normal" stroke="#3a3a3a" stroke-width="0.18" >0</text>
<rect x="293.1" y="551.1" width="4.3" height="4.2" fill="#a3122e"/>
<text x="306.7" y="555.4" font-size="6.1" text-anchor="middle" fill="#3a3a3a" font-weight="normal" stroke="#3a3a3a" stroke-width="0.18" >10</text>
<text x="347.15" y="555.4" font-size="6.1" text-anchor="middle" fill="#3a3a3a" font-weight="normal" stroke="#3a3a3a" stroke-width="0.18" >3</text>
<text x="387.6" y="555.4" font-size="6.1" text-anchor="middle" fill="#3a3a3a" font-weight="normal" stroke="#3a3a3a" stroke-width="0.18" >2</text>
<text x="428.05" y="555.4" font-size="6.1" text-anchor="middle" fill="#3a3a3a" font-weight="normal" stroke="#3a3a3a" stroke-width="0.18" >1</text>
<text x="468.5" y="555.4" font-size="6.1" text-anchor="middle" fill="#3a3a3a" font-weight="normal" stroke="#3a3a3a" stroke-width="0.18" >1</text>
<text x="508.95" y="555.4" font-size="6.1" text-anchor="middle" fill="#3a3a3a" font-weight="normal" stroke="#3a3a3a" stroke-width="0.18" >0</text>
<rect x="0.5" y="0.5" width="519" height="572" fill="none" stroke="#555" stroke-width="1"/>
</svg>
</body></html>
